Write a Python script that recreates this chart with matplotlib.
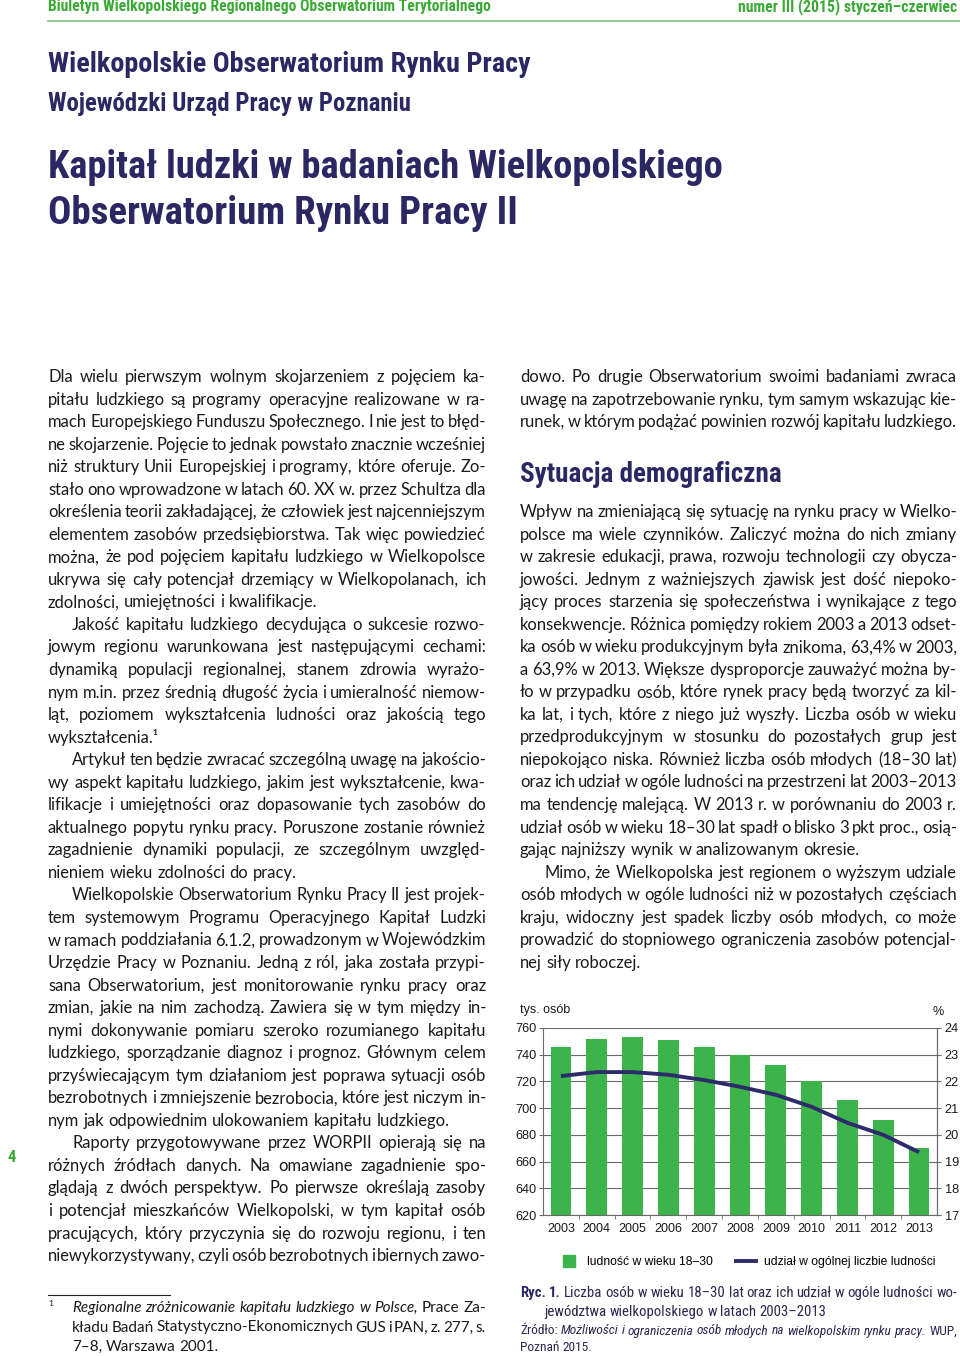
import matplotlib
matplotlib.use("Agg")
import matplotlib.pyplot as plt
from matplotlib import font_manager
from matplotlib.lines import Line2D

# ---------------- data ----------------
YEARS = ["2003", "2004", "2005", "2006", "2007", "2008", "2009", "2010", "2011", "2012", "2013"]
POP_18_30 = [746, 752, 753.5, 751, 745.5, 739.5, 732, 720, 706, 691, 670.5]   # tys. osob
SHARE_PCT = [22.2, 22.35, 22.35, 22.25, 22.05, 21.8, 21.5, 21.05, 20.45, 20.0, 19.35]  # %
LEFT_TICKS = [620, 640, 660, 680, 700, 720, 740, 760]
RIGHT_TICKS = [17, 18, 19, 20, 21, 22, 23, 24]
LEGEND_LABELS = ["ludność w wieku 18–30", "udział w ogólnej liczbie ludności"]

HEADER_LEFT = "Biuletyn Wielkopolskiego Regionalnego Obserwatorium Terytorialnego"
HEADER_RIGHT = "numer III (2015) styczeń–czerwiec"
TITLES = ["Wielkopolskie Obserwatorium Rynku Pracy",
          "Wojewódzki Urząd Pracy w Poznaniu",
          "Kapitał ludzki w badaniach Wielkopolskiego",
          "Obserwatorium Rynku Pracy II"]
SECTION = "Sytuacja demograficzna"

# (text, indented, justified)
LEFT_COLUMN = [
    ("Dla wielu pierwszym wolnym skojarzeniem z pojęciem ka-", 0, 1),
    ("pitału ludzkiego są programy operacyjne realizowane w ra-", 0, 1),
    ("mach Europejskiego Funduszu Społecznego. I nie jest to błęd-", 0, 1),
    ("ne skojarzenie. Pojęcie to jednak powstało znacznie wcześniej", 0, 1),
    ("niż struktury Unii Europejskiej i programy, które oferuje. Zo-", 0, 1),
    ("stało ono wprowadzone w latach 60. XX w. przez Schultza dla", 0, 1),
    ("określenia teorii zakładającej, że człowiek jest najcenniejszym", 0, 1),
    ("elementem zasobów przedsiębiorstwa. Tak więc powiedzieć", 0, 1),
    ("można, że pod pojęciem kapitału ludzkiego w Wielkopolsce", 0, 1),
    ("ukrywa się cały potencjał drzemiący w Wielkopolanach, ich", 0, 1),
    ("zdolności, umiejętności i kwalifikacje.", 0, 0),
    ("Jakość kapitału ludzkiego decydująca o sukcesie rozwo-", 1, 1),
    ("jowym regionu warunkowana jest następującymi cechami:", 0, 1),
    ("dynamiką populacji regionalnej, stanem zdrowia wyrażo-", 0, 1),
    ("nym m.in. przez średnią długość życia i umieralność niemow-", 0, 1),
    ("ląt, poziomem wykształcenia ludności oraz jakością tego", 0, 1),
    ("wykształcenia.¹", 0, 0),
    ("Artykuł ten będzie zwracać szczególną uwagę na jakościo-", 1, 1),
    ("wy aspekt kapitału ludzkiego, jakim jest wykształcenie, kwa-", 0, 1),
    ("lifikacje i umiejętności oraz dopasowanie tych zasobów do", 0, 1),
    ("aktualnego popytu rynku pracy. Poruszone zostanie również", 0, 1),
    ("zagadnienie dynamiki populacji, ze szczególnym uwzględ-", 0, 1),
    ("nieniem wieku zdolności do pracy.", 0, 0),
    ("Wielkopolskie Obserwatorium Rynku Pracy II jest projek-", 1, 1),
    ("tem systemowym Programu Operacyjnego Kapitał Ludzki", 0, 1),
    ("w ramach poddziałania 6.1.2, prowadzonym w Wojewódzkim", 0, 1),
    ("Urzędzie Pracy w Poznaniu. Jedną z ról, jaka została przypi-", 0, 1),
    ("sana Obserwatorium, jest monitorowanie rynku pracy oraz", 0, 1),
    ("zmian, jakie na nim zachodzą. Zawiera się w tym między in-", 0, 1),
    ("nymi dokonywanie pomiaru szeroko rozumianego kapitału", 0, 1),
    ("ludzkiego, sporządzanie diagnoz i prognoz. Głównym celem", 0, 1),
    ("przyświecającym tym działaniom jest poprawa sytuacji osób", 0, 1),
    ("bezrobotnych i zmniejszenie bezrobocia, które jest niczym in-", 0, 1),
    ("nym jak odpowiednim ulokowaniem kapitału ludzkiego.", 0, 0),
    ("Raporty przygotowywane przez WORPII opierają się na", 1, 1),
    ("różnych źródłach danych. Na omawiane zagadnienie spo-", 0, 1),
    ("glądają z dwóch perspektyw. Po pierwsze określają zasoby", 0, 1),
    ("i potencjał mieszkańców Wielkopolski, w tym kapitał osób", 0, 1),
    ("pracujących, który przyczynia się do rozwoju regionu, i ten", 0, 1),
    ("niewykorzystywany, czyli osób bezrobotnych i biernych zawo-", 0, 1),
]

RIGHT_TOP = [
    ("dowo. Po drugie Obserwatorium swoimi badaniami zwraca", 0, 1),
    ("uwagę na zapotrzebowanie rynku, tym samym wskazując kie-", 0, 1),
    ("runek, w którym podążać powinien rozwój kapitału ludzkiego.", 0, 1),
]

RIGHT_BODY = [
    ("Wpływ na zmieniającą się sytuację na rynku pracy w Wielko-", 0, 1),
    ("polsce ma wiele czynników. Zaliczyć można do nich zmiany", 0, 1),
    ("w zakresie edukacji, prawa, rozwoju technologii czy obycza-", 0, 1),
    ("jowości. Jednym z ważniejszych zjawisk jest dość niepoko-", 0, 1),
    ("jący proces starzenia się społeczeństwa i wynikające z tego", 0, 1),
    ("konsekwencje. Różnica pomiędzy rokiem 2003 a 2013 odset-", 0, 1),
    ("ka osób w wieku produkcyjnym była znikoma, 63,4% w 2003,", 0, 1),
    ("a 63,9% w 2013. Większe dysproporcje zauważyć można by-", 0, 1),
    ("ło w przypadku osób, które rynek pracy będą tworzyć za kil-", 0, 1),
    ("ka lat, i tych, które z niego już wyszły. Liczba osób w wieku", 0, 1),
    ("przedprodukcyjnym w stosunku do pozostałych grup jest", 0, 1),
    ("niepokojąco niska. Również liczba osób młodych (18–30 lat)", 0, 1),
    ("oraz ich udział w ogóle ludności na przestrzeni lat 2003–2013", 0, 1),
    ("ma tendencję malejącą. W 2013 r. w porównaniu do 2003 r.", 0, 1),
    ("udział osób w wieku 18–30 lat spadł o blisko 3 pkt proc., osią-", 0, 1),
    ("gając najniższy wynik w analizowanym okresie.", 0, 0),
    ("Mimo, że Wielkopolska jest regionem o wyższym udziale", 1, 1),
    ("osób młodych w ogóle ludności niż w pozostałych częściach", 0, 1),
    ("kraju, widoczny jest spadek liczby osób młodych, co może", 0, 1),
    ("prowadzić do stopniowego ograniczenia zasobów potencjal-", 0, 1),
    ("nej siły roboczej.", 0, 0),
]

FOOTNOTE = [
    [("Regionalne zróżnicowanie kapitału ludzkiego w Polsce,", "i"), ("Prace Za-", "n")],
    [("kładu Badań Statystyczno-Ekonomicznych GUS i PAN, z. 277, s.", "n")],
    [("7–8, Warszawa 2001.", "n")],
]
CAPTION = [
    [("Ryc. 1.", "b"), ("Liczba osób w wieku 18–30 lat oraz ich udział w ogóle ludności wo-", "n")],
    [("jewództwa wielkopolskiego w latach 2003–2013", "n")],
]
SOURCE = [
    [("Źródło:", "n"), ("Możliwości i ograniczenia osób młodych na wielkopolskim rynku pracy.", "i"), ("WUP,", "n")],
    [("Poznań 2015.", "n")],
]

# ---------------- styles ----------------
names = {f.name for f in font_manager.fontManager.ttflist}
COND = next((n for n in ["Roboto Condensed", "Liberation Sans Narrow", "Open Sans Condensed"] if n in names),
            "Liberation Sans")
BODY = "Lato" if "Lato" in names else "Open Sans"
CHART = "Liberation Sans"

NAVY = "#2b2763"
GREEN = "#3aaa35"
BAR_GREEN = "#3cb44b"
LINE_NAVY = "#2e2b6b"
INK = "#1a1a1a"
GRID = "#6a6a6a"
STYLES = {"n": {}, "i": {"fontstyle": "italic"}, "b": {"fontweight": "bold"}}

fig = plt.figure(figsize=(9.6, 13.56), dpi=100)
page = fig.add_axes([0, 0, 1, 1])
page.set_xlim(0, 960)
page.set_ylim(1356, 0)
page.axis("off")
renderer = fig.canvas.get_renderer()


def width_of(t):
    return t.get_window_extent(renderer=renderer).width


def space_width(size, family):
    a = page.text(0, 0, "n n", fontsize=size, family=family)
    b = page.text(0, 0, "nn", fontsize=size, family=family)
    w = width_of(a) - width_of(b)
    a.remove()
    b.remove()
    return w


def split_words(segs):
    return [(w, st) for txt, st in segs for w in txt.split()]


def max_size(segs, width, family, min_gap):
    # largest font size at which the line fits with the tightest allowed gaps
    words = split_words(segs)
    arts = [page.text(0, 0, w, fontsize=10, family=family, **STYLES[st]) for w, st in words]
    natural = sum(width_of(a) for a in arts) + min_gap * space_width(10, family) * (len(words) - 1)
    for a in arts:
        a.remove()
    return 10 * width / natural


def draw_line(segs, x0, x1, y, size, justify=True, family=BODY, color=INK, colors=None):
    words = split_words(segs)
    arts = []
    for w, st in words:
        c = colors.get(st, color) if colors else color
        arts.append(page.text(0, y, w, fontsize=size, family=family, color=c,
                              va="center", ha="left", **STYLES[st]))
    widths = [width_of(a) for a in arts]
    if justify and len(words) > 1:
        gap = (x1 - x0 - sum(widths)) / (len(words) - 1)
    else:
        gap = space_width(size, family)
    x = x0
    for a, w in zip(arts, widths):
        a.set_x(x)
        x += w + gap


def block_size(lines, x0, x1, size, family=BODY, min_gap=0.4):
    fits = [max_size(segs, x1 - x0 - ind, family, min_gap) for segs, ind, just in lines if just]
    return min([size] + fits)


def draw_block(lines, x0, x1, y0, step, size, family=BODY, color=INK, colors=None):
    # lines: list of (segs, indent, justified); one common size for the block
    for i, (segs, ind, just) in enumerate(lines):
        draw_line(segs, x0 + ind, x1, y0 + i * step, size, justify=just, family=family,
                  color=color, colors=colors)


def column(lines, indent=24):
    return [([(txt, "n")], indent * ind, bool(just)) for txt, ind, just in lines]


def fit_text(s, x, y, target, family=COND, weight="bold", color=NAVY, ha="left"):
    t = page.text(x, y, s, fontsize=10, family=family, fontweight=weight, color=color,
                  va="center", ha=ha)
    t.set_fontsize(10 * target / width_of(t))
    return t


# ---------------- page furniture ----------------
fit_text(HEADER_LEFT, 48, 7, 441, color=GREEN)
fit_text(HEADER_RIGHT, 957, 7, 219, color=GREEN, ha="right")
page.plot([48, 960], [21, 21], color="#7cc47f", lw=1.2)

fit_text(TITLES[0], 48, 64, 483)
fit_text(TITLES[1], 48, 104, 362)
fit_text(TITLES[2], 48, 167, 677)
fit_text(TITLES[3], 48, 213, 470)
fit_text(SECTION, 520, 475, 261)

page.text(8, 1157, "4", fontsize=12, family=COND, fontweight="bold", color=GREEN, va="center")

# body text: one size shared by both columns
left = column(LEFT_COLUMN)
right_top = column(RIGHT_TOP)
right_body = column(RIGHT_BODY)
body_size = min(block_size(left, 48, 486, 12.6), block_size(right_top + right_body, 520, 957, 12.6))
draw_block(left, 48, 486, 377, 22.54, body_size)
draw_block(right_top, 520, 957, 377, 22.54, body_size)
draw_block(right_body, 520, 957, 512, 22.54, body_size)

# footnote
page.plot([48, 170], [1295, 1295], color="#222222", lw=0.8)
page.text(48, 1303, "1", fontsize=6, family=BODY, color=INK, va="center")
foot = [(segs, 0, i < 2) for i, segs in enumerate(FOOTNOTE)]
draw_block(foot, 72, 486, 1308, 19.5, block_size(foot, 72, 486, 11.2, min_gap=0.6))

# caption and source
cap = [(segs, 24 * i, i == 0) for i, segs in enumerate(CAPTION)]
draw_block(cap, 520, 957, 1293, 19, block_size(cap, 520, 957, 11.5, COND, min_gap=1.0),
           family=COND, color="#2a2850", colors={"b": NAVY})
src = [(segs, 0, i == 0) for i, segs in enumerate(SOURCE)]
draw_block(src, 520, 957, 1331, 16.5, block_size(src, 520, 957, 10.0, COND, min_gap=1.0),
           family=COND, color="#2a2850")

# ---------------- chart ----------------
W, H = 960.0, 1356.0
x_l, x_r, y_t, y_b = 543, 937, 1028, 1215
ax = fig.add_axes([x_l / W, 1 - y_b / H, (x_r - x_l) / W, (y_b - y_t) / H])
ax.patch.set_alpha(0)
pos = list(range(len(YEARS)))
ax.bar(pos, POP_18_30, width=0.58, color=BAR_GREEN, zorder=2)
ax.set_xlim(-0.5, len(YEARS) - 0.5)
ax.set_ylim(LEFT_TICKS[0], LEFT_TICKS[-1])
ax.set_yticks(LEFT_TICKS)
ax.set_xticks(pos)
ax.set_xticklabels(YEARS)
ax.set_xticks([p + 0.5 for p in pos[:-1]], minor=True)
ax.set_axisbelow(True)
ax.yaxis.grid(True, color=GRID, lw=0.8)
for side in ["left", "right", "bottom"]:
    ax.spines[side].set_color(GRID)
    ax.spines[side].set_linewidth(0.8)
ax.spines["top"].set_visible(False)
ax.tick_params(axis="x", which="major", length=0, pad=6, labelsize=9, labelcolor=INK)
ax.tick_params(axis="x", which="minor", length=3, color=GRID, direction="out")
ax.tick_params(axis="y", length=3, color=GRID, pad=1.5, labelsize=9.2, labelcolor=INK)
for lab in ax.get_xticklabels() + ax.get_yticklabels():
    lab.set_family(CHART)

ax2 = ax.twinx()
ax2.plot(pos, SHARE_PCT, color=LINE_NAVY, lw=2.8, solid_joinstyle="round", solid_capstyle="butt", zorder=3)
ax2.set_ylim(RIGHT_TICKS[0], RIGHT_TICKS[-1])
ax2.set_yticks(RIGHT_TICKS)
ax2.spines["top"].set_visible(False)
ax2.spines["right"].set_color(GRID)
ax2.spines["right"].set_linewidth(0.8)
ax2.spines["left"].set_visible(False)
ax2.spines["bottom"].set_visible(False)
ax2.tick_params(axis="y", length=3, color=GRID, pad=2.5, labelsize=9.2, labelcolor=INK)
for lab in ax2.get_yticklabels():
    lab.set_family(CHART)

page.text(520, 1010, "tys. osób", fontsize=9, family=CHART, color=INK, va="center", ha="left")
page.text(938, 1012, "%", fontsize=9, family=CHART, color=INK, va="center", ha="center")

handles = [Line2D([], [], ls="none", marker="s", markersize=8, color=BAR_GREEN),
           Line2D([], [], color=LINE_NAVY, lw=2.8)]
ax.legend(handles, LEGEND_LABELS, loc="center", bbox_to_anchor=(747 / W, 1 - 1262 / H),
          bbox_transform=fig.transFigure, ncol=2, frameon=False, handlelength=1.7,
          handletextpad=0.6, columnspacing=1.9, prop={"family": CHART, "size": 8.7})

fig.savefig("out.png", dpi=100, facecolor="white")
